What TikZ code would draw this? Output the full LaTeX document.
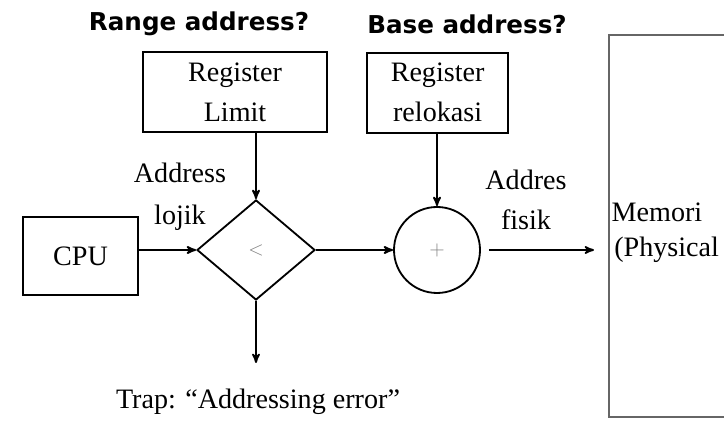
\documentclass[tikz,border=0pt]{standalone}
\usepackage{fontspec}
\setmainfont{Liberation Serif}
\newfontfamily\judulfont{DejaVu Sans}
\usepackage{tikz}
\usetikzlibrary{arrows, shapes.geometric, fit}

\tikzset{
    kotak/.style={draw, line width=1.3pt, align=center, inner sep=0pt},
    panah/.style={line width=1.3pt, -stealth'},
    judul/.style={font=\judulfont\bfseries\fontsize{17.5}{20}\selectfont},
}

\begin{document}
\begin{tikzpicture}[x=1cm, y=1cm, font=\fontsize{20}{28.5}\selectfont]
    \useasboundingbox (0,0) rectangle (18.1,10.575);

    % Judul
    \node[judul] (range) at (4.975, 9.975) {Range address?};
    \node[judul] (base) at (11.675, 9.975) {Base address?};

    % Register
    \node[kotak, minimum width=4.6cm, minimum height=2cm] (limit) at (5.875, 8.275) {Register\\Limit};
    \node[kotak, minimum width=3.525cm, minimum height=2cm] (reloc) at (10.94, 8.26) {Register\\relokasi};

    % CPU
    \node[kotak, minimum width=2.875cm, minimum height=1.95cm] (cpu) at (2.0125, 4.175) {CPU};

    % Pembanding dan penjumlah
    \node[draw, diamond, line width=1.3pt, minimum width=2.95cm, minimum height=2.5cm, inner sep=0pt,
          text=gray, font=\fontsize{14}{16}\selectfont] (cmp) at (6.4, 4.325) {$<$};
    \node[draw, circle, line width=1.3pt, minimum size=2.15cm, inner sep=0pt,
          text=gray, font=\fontsize{14}{16}\selectfont] (add) at (10.925, 4.325) {$+$};

    % Memori
    \node[draw=gray!80!black, line width=1.5pt, minimum width=3.275cm, minimum height=9.55cm]
        (mem) at (16.8625, 4.925) {};
    \node (memori) at (16.425, 5.275) {Memori};
    \node[anchor=west, inner sep=0pt] (phys) at (15.35, 4.325) {(Physical};

    % Panah
    \draw[panah] (cpu.east |- cmp.west) -- (cmp.west);
    \draw[panah] (limit.south -| cmp.north) -- (cmp.north);
    \draw[panah] (cmp.east) -- (add.west);
    \draw[panah] (reloc.south -| add.north) -- (add.north);
    \draw[panah, shorten <=0.2cm, shorten >=0.35cm] (add.east) -- (add.east -| mem.west);
    \coordinate (trapend) at (6.4, 1.5);
    \draw[panah] (cmp.south) -- (trapend);

    % Label
    \node[align=center, font=\fontsize{20}{30}\selectfont] (lojik) at (4.5, 5.65) {Address\\lojik};
    \node[align=center] (fisik) at (13.15, 5.575) {Addres\\fisik};
    \node (trap) at (6.45, 0.525) {Trap: ``Addressing error''};
\end{tikzpicture}
\end{document}
